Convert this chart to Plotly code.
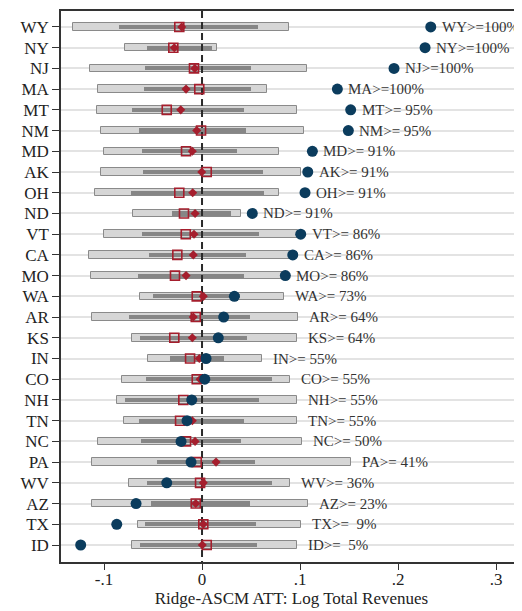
import plotly.graph_objects as go

states = ["WY","NY","NJ","MA","MT","NM","MD","AK","OH","ND","VT","CA","MO",
          "WA","AR","KS","IN","CO","NH","TN","NC","PA","WV","AZ","TX","ID"]
outer_lo = [-0.1313,-0.0783,-0.1143,-0.1058,-0.1074,-0.1034,-0.1003,-0.1034,-0.1095,-0.0707,
            -0.1003,-0.1153,-0.1133,-0.0630,-0.1126,-0.0717,-0.0548,-0.0813,-0.0864,-0.0796,
            -0.1058,-0.1119,-0.0742,-0.1126,-0.0650,-0.0717]
inner_lo = [-0.0844,-0.0561,-0.0582,-0.0592,-0.0717,-0.0643,-0.0612,-0.0599,-0.0728,-0.0309,
            -0.0612,-0.0541,-0.0650,-0.0497,-0.0745,-0.0633,-0.0327,-0.0571,-0.0786,-0.0643,
            -0.0626,-0.0456,-0.0564,-0.0523,-0.0582,-0.0633]
inner_hi = [0.0568,0.0097,0.0497,0.0497,0.0429,0.0449,0.0360,0.0626,0.0636,0.0296,
            0.0585,0.0449,0.0432,0.0388,0.0490,0.0462,0.0228,0.0711,0.0585,0.0432,
            0.0395,0.0541,0.0711,0.0490,0.0551,0.0558]
outer_hi = [0.0888,0.0153,0.1074,0.0660,0.0972,0.1041,0.0789,0.1007,0.0789,0.0395,
            0.0980,0.0915,0.0837,0.0837,0.0983,0.0972,0.0615,0.0898,0.0972,0.0972,
            0.1017,0.1517,0.0898,0.1085,0.1007,0.0972]
square_est = [-0.0232,-0.0293,-0.0082,-0.0028,-0.0360,-0.0010,-0.0163,0.0048,-0.0232,-0.0184,
              -0.0166,-0.0252,-0.0276,-0.0054,-0.0064,-0.0283,-0.0122,-0.0054,-0.0191,-0.0224,
              -0.0163,-0.0054,-0.0020,-0.0064,0.0013,0.0048]
diamond_est = [-0.0207,-0.0283,-0.0074,-0.0163,-0.0217,-0.0054,-0.0099,-0.0003,-0.0095,-0.0071,
               -0.0082,-0.0089,-0.0163,0.0013,-0.0089,-0.0099,-0.0028,-0.0020,-0.0092,-0.0099,
               -0.0071,0.0143,0.0013,-0.0064,0.0013,0.0003]
att = [0.2334,0.2276,0.1959,0.1381,0.1517,0.1493,0.1126,0.1079,0.1051,0.0513,
       0.1007,0.0926,0.0850,0.0330,0.0221,0.0166,0.0041,0.0028,-0.0105,-0.0153,
       -0.0214,-0.0112,-0.0360,-0.0673,-0.0870,-0.1238]
pct = [100,100,100,100,95,95,91,91,91,91,86,86,86,73,64,64,55,55,55,55,50,41,36,23,9,5]
xtick_vals = [-0.1, 0, 0.1, 0.2, 0.3]
xtick_text = ["-.1", "0", ".1", ".2", ".3"]

FONT = "Liberation Serif"
RED = "#a51e2d"
NAVY = "#0b3c5d"
ypos = list(range(len(states)))

fig = go.Figure()
fig.add_trace(go.Bar(
    orientation="h", y=ypos, base=outer_lo,
    x=[h - l for h, l in zip(outer_hi, outer_lo)], width=0.36,
    marker=dict(color="#d6d6d6", line=dict(color="#8a8a8a", width=1)),
    hoverinfo="skip", showlegend=False))
fig.add_trace(go.Bar(
    orientation="h", y=ypos, base=inner_lo,
    x=[h - l for h, l in zip(inner_hi, inner_lo)], width=0.2,
    marker=dict(color="#868686", line=dict(width=0)),
    hoverinfo="skip", showlegend=False))
fig.add_trace(go.Scatter(
    x=[0, 0], y=[-0.77, 25.82], mode="lines",
    line=dict(color="#2a2a2a", width=2, dash="7px,4px"),
    hoverinfo="skip", showlegend=False))
fig.add_trace(go.Scatter(
    x=square_est, y=ypos, mode="markers",
    marker=dict(symbol="square-open", size=9, color=RED, line=dict(width=1.6, color=RED)),
    showlegend=False))
fig.add_trace(go.Scatter(
    x=diamond_est, y=ypos, mode="markers",
    marker=dict(symbol="diamond", size=7, color=RED, line=dict(width=0)),
    showlegend=False))
fig.add_trace(go.Scatter(
    x=att, y=ypos, mode="markers",
    marker=dict(symbol="circle", size=11, color=NAVY, line=dict(width=0)),
    showlegend=False))

annotations = []
for i, s in enumerate(states):
    txt = "%s>=%s%%" % (s, str(pct[i]).rjust(3).replace(" ", "\u00a0"))
    annotations.append(dict(
        x=max(outer_hi[i], att[i]), y=i, xref="x", yref="y", text=txt,
        showarrow=False, xanchor="left", yanchor="middle", xshift=9,
        font=dict(family=FONT, size=15, color="#333333")))

# page body has an 8px default margin; the figure is sized to fill the window
fig.update_layout(
    width=514, height=603,
    margin=dict(l=53, r=0, t=3, b=49),
    paper_bgcolor="white", plot_bgcolor="white",
    barmode="overlay", bargap=0,
    font=dict(family=FONT, color="#222222"),
    annotations=annotations,
    xaxis=dict(
        range=[-0.1439, 0.3265], tickvals=xtick_vals, ticktext=xtick_text,
        ticks="outside", ticklen=6, tickwidth=1.2, tickcolor="#333",
        showline=True, linecolor="#333", linewidth=1.5, mirror=True,
        showgrid=False, zeroline=False, automargin=False,
        ticklabelstandoff=-5,
        tickfont=dict(family=FONT, size=17, color="#222"),
        title=dict(text="Ridge-ASCM ATT: Log Total Revenues",
                   font=dict(family=FONT, size=17, color="#222"), standoff=4)),
    yaxis=dict(
        range=[25.82, -0.77], tickvals=ypos, ticktext=states,
        ticks="outside", ticklen=7, tickwidth=1.2, tickcolor="#333",
        showline=True, linecolor="#333", linewidth=1.5, automargin=False,
        showgrid=True, gridcolor="#e3e3e3", gridwidth=2, zeroline=False,
        tickfont=dict(family=FONT, size=17, color="#222")),
)

fig.write_html("out.html")
